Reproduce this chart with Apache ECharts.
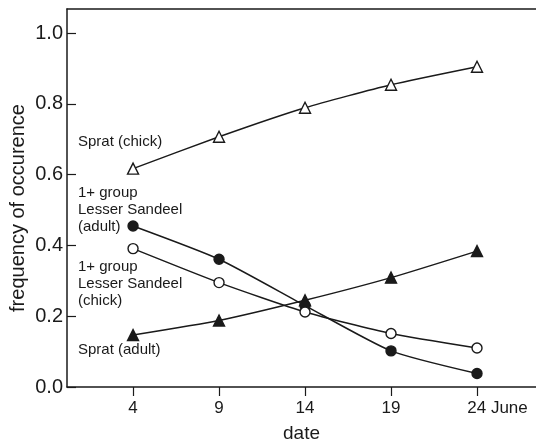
<!DOCTYPE html>
<html>
<head>
<meta charset="utf-8">
<script src="https://cdn.jsdelivr.net/npm/echarts@6/dist/echarts.min.js"></script>
<style>
  html, body { margin: 0; padding: 0; background: #fff; }
  #main { width: 536px; height: 441px; }
</style>
</head>
<body>
<div id="main"></div>
<script>
// dates in June
var dates = [4, 9, 14, 19, 24];
var yTicks = [0, 0.2, 0.4, 0.6, 0.8, 1.0];

// frequency of occurrence per series
var spratChick = [0.617, 0.707, 0.789, 0.854, 0.905];
var spratAdult = [0.147, 0.188, 0.245, 0.309, 0.384];
var sandeelAdult = [0.455, 0.361, 0.230, 0.102, 0.038];
var sandeelChick = [0.391, 0.295, 0.212, 0.151, 0.110];

var myChart = echarts.init(document.getElementById('main'));
var ink = '#1a1a1a';
var font = '"Liberation Sans", Arial, Helvetica, sans-serif';

function pairs(vals) {
  var out = [];
  for (var i = 0; i < dates.length; i++) out.push([dates[i], vals[i]]);
  return out;
}

function line(name, vals, symbol, filled, size) {
  return {
    name: name,
    type: 'line',
    data: pairs(vals),
    smooth: 0.2,
    symbol: symbol,
    symbolSize: size,
    showAllSymbol: true,
    lineStyle: { color: ink, width: 1.5 },
    itemStyle: {
      color: filled ? ink : '#fff',
      borderColor: ink,
      borderWidth: 1.4
    },
    z: filled ? 3 : 4
  };
}

var option = {
  backgroundColor: '#fff',
  animation: false,
  textStyle: { fontFamily: font },
  grid: { left: 67, right: 0, top: 9, bottom: 54, containLabel: false, outerBoundsMode: 'none' },
  xAxis: [{
    type: 'value',
    min: 0.16,
    max: 27.43,
    name: 'date',
    nameLocation: 'middle',
    nameGap: 37,
    nameMoveOverlap: false,
    nameTextStyle: { fontSize: 19, color: ink, fontFamily: font },
    splitLine: { show: false },
    axisLine: { lineStyle: { color: ink, width: 1.5 } },
    axisTick: { inside: false, length: 9, customValues: dates, lineStyle: { color: ink, width: 1.2 } },
    axisLabel: {
      customValues: dates,
      margin: 13,
      fontSize: 17,
      color: ink,
      fontFamily: font,
      formatter: function(v) {
        return v === 24 ? '{p|}24 June' : String(v);
      },
      rich: { p: { width: 41 } }
    }
  }, {
    type: 'value',
    position: 'top',
    min: 0.16,
    max: 27.43,
    splitLine: { show: false },
    axisLine: { lineStyle: { color: ink, width: 1.5 } },
    axisTick: { show: false },
    axisLabel: { show: false }
  }],
  yAxis: {
    type: 'value',
    min: 0,
    max: 1.068,
    name: 'frequency of occurence',
    nameLocation: 'middle',
    nameGap: 39,
    nameMoveOverlap: false,
    nameTextStyle: { fontSize: 20, color: ink, fontFamily: font, padding: [0, 20, 0, 0] },
    splitLine: { show: false },
    axisLine: { show: true, lineStyle: { color: ink, width: 1.5 } },
    axisTick: { inside: true, length: 9, customValues: yTicks, lineStyle: { color: ink, width: 1.2 } },
    axisLabel: {
      customValues: yTicks,
      margin: 4,
      fontSize: 20,
      color: ink,
      fontFamily: font,
      formatter: function(v) { return v.toFixed(1); }
    }
  },
  graphic: [
    { type: 'text', left: 78, top: 134, style: { text: 'Sprat (chick)', fontSize: 15, fill: ink, fontFamily: font } },
    { type: 'text', left: 78, top: 184, style: { text: '1+ group\nLesser Sandeel\n(adult)', fontSize: 15, lineHeight: 17, fill: ink, fontFamily: font } },
    { type: 'text', left: 78, top: 258, style: { text: '1+ group\nLesser Sandeel\n(chick)', fontSize: 15, lineHeight: 17, fill: ink, fontFamily: font } },
    { type: 'text', left: 78, top: 342, style: { text: 'Sprat (adult)', fontSize: 15, fill: ink, fontFamily: font } }
  ],
  series: [
    line('Sprat (chick)', spratChick, 'triangle', false, 11),
    line('Sprat (adult)', spratAdult, 'triangle', true, 11),
    line('Lesser Sandeel (adult)', sandeelAdult, 'circle', true, 10),
    line('Lesser Sandeel (chick)', sandeelChick, 'circle', false, 10)
  ]
};

myChart.setOption(option);
</script>
</body>
</html>
